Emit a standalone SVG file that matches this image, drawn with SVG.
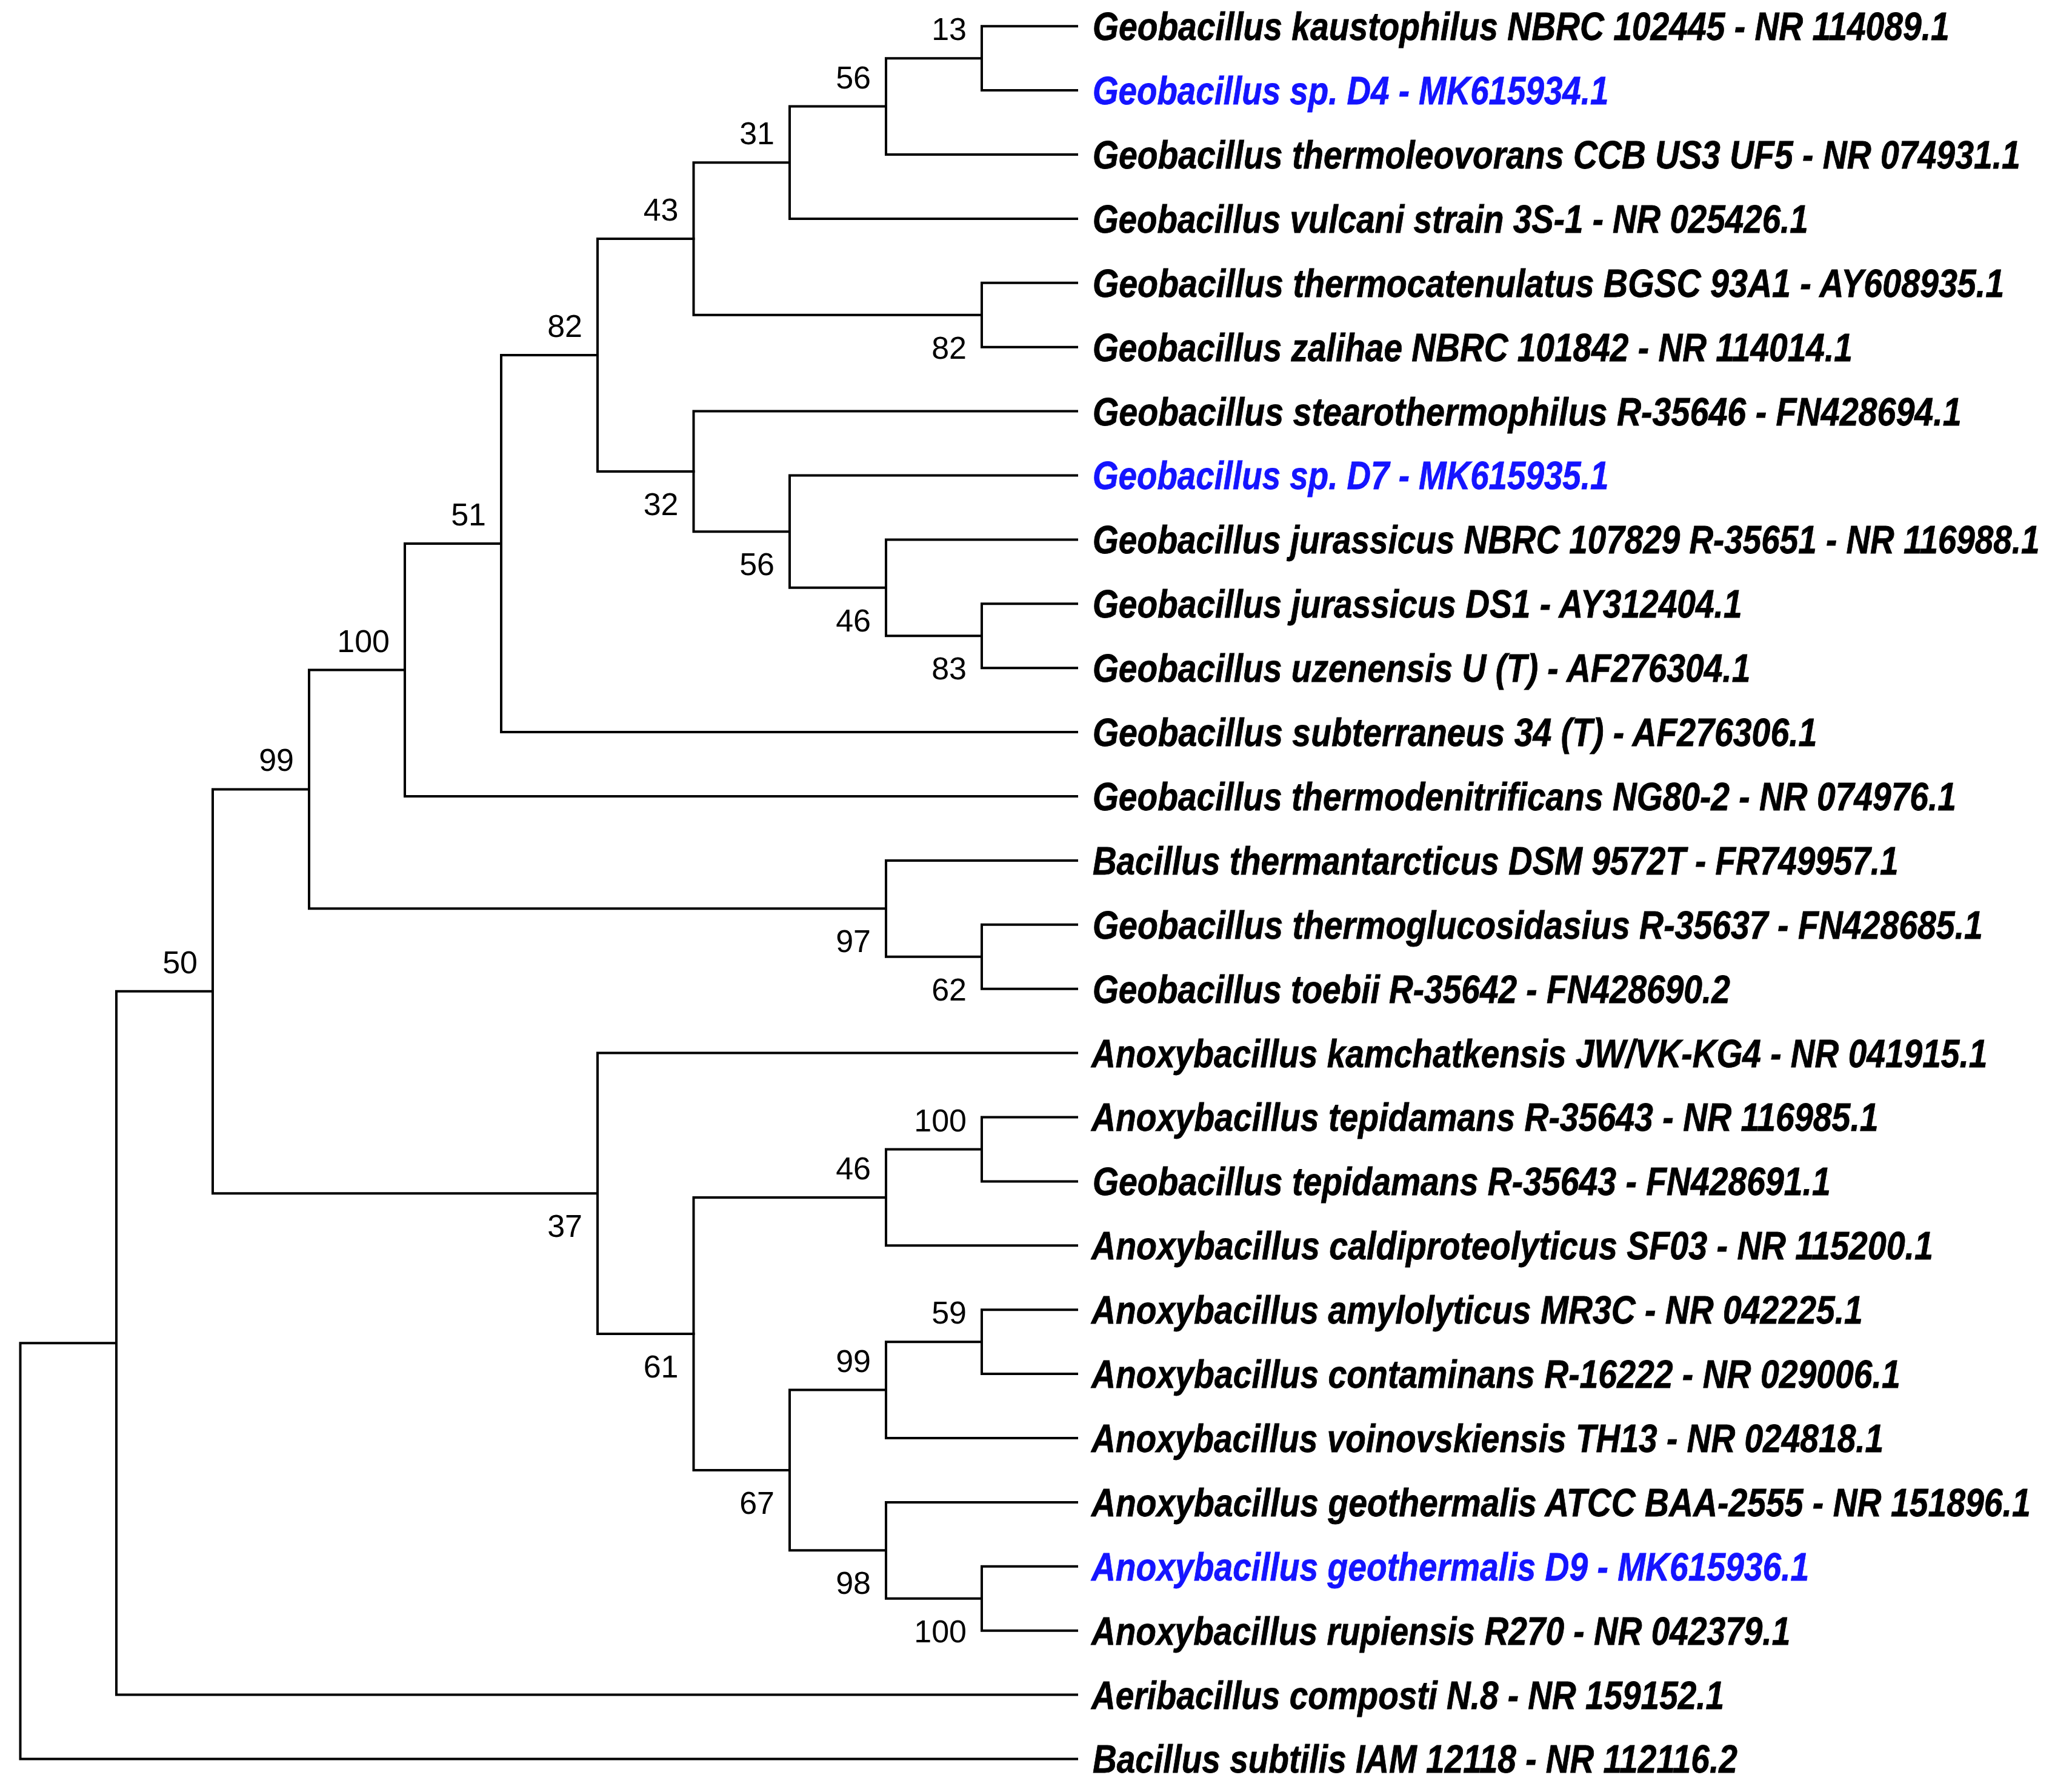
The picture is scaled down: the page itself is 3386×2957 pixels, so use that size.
<svg xmlns="http://www.w3.org/2000/svg" width="3386" height="2957" viewBox="0 0 3386 2957">
<style>
.br{fill:none;stroke:#000;stroke-width:4;stroke-linejoin:miter;stroke-linecap:square}
.bs{font-family:"Liberation Sans",Arial,sans-serif;font-size:52px;fill:#000;text-anchor:end}
.lf{font-family:"Liberation Sans",Arial,sans-serif;font-size:64px;font-weight:bold;font-style:italic;fill:#000;stroke:#000;stroke-width:0.8}
.lf .q{fill:#1414ff;stroke:#1414ff}
</style>
<rect width="3386" height="2957" fill="#fff"/>
<g id="connectors" class="br">
<path d="M1777 43.2H1620V149.1H1777"/>
<path d="M1620 96.15H1462V255H1777"/>
<path d="M1462 175.6H1303V360.9H1777"/>
<path d="M1777 466.8H1620V572.7H1777"/>
<path d="M1303 268.25H1144.5V519.75H1620"/>
<path d="M1777 996.3H1620V1102.2H1777"/>
<path d="M1777 890.4H1462V1049.25H1620"/>
<path d="M1777 784.5H1303V969.8H1462"/>
<path d="M1777 678.6H1144.5V877.15H1303"/>
<path d="M1144.5 394H986V777.9H1144.5"/>
<path d="M986 585.95H827V1208.1H1777"/>
<path d="M827 897H668V1314H1777"/>
<path d="M1777 1525.8H1620V1631.7H1777"/>
<path d="M1777 1419.9H1462V1578.75H1620"/>
<path d="M668 1105.5H510V1499.3H1462"/>
<path d="M1777 1843.5H1620V1949.4H1777"/>
<path d="M1620 1896.45H1462V2055.3H1777"/>
<path d="M1777 2161.2H1620V2267.1H1777"/>
<path d="M1620 2214.15H1462V2373H1777"/>
<path d="M1777 2584.8H1620V2690.7H1777"/>
<path d="M1777 2478.9H1462V2637.75H1620"/>
<path d="M1462 2293.6H1303V2558.3H1462"/>
<path d="M1462 1975.9H1144.5V2425.95H1303"/>
<path d="M1777 1737.6H986V2200.9H1144.5"/>
<path d="M510 1302.4H351V1969.25H986"/>
<path d="M351 1635.8H192V2796.6H1777"/>
<path d="M192 2216.2H33.5V2902.5H1777"/>
</g>
<g id="bootstrap" class="bs">
<g id="n13"><text x="1595" y="66">13</text></g>
<g id="n56a"><text x="1437" y="145.6">56</text></g>
<g id="n31"><text x="1278" y="238">31</text></g>
<g id="n43"><text x="1119.5" y="364">43</text></g>
<g id="n82b"><text x="1595" y="591.7">82</text></g>
<g id="n82a"><text x="961" y="556">82</text></g>
<g id="n32"><text x="1119.5" y="850">32</text></g>
<g id="n56b"><text x="1278" y="949">56</text></g>
<g id="n46a"><text x="1437" y="1042">46</text></g>
<g id="n83"><text x="1595" y="1121">83</text></g>
<g id="n51"><text x="802" y="867">51</text></g>
<g id="n100a"><text x="643" y="1075.5">100</text></g>
<g id="n99a"><text x="485" y="1272.4">99</text></g>
<g id="n97"><text x="1437" y="1571">97</text></g>
<g id="n62"><text x="1595" y="1651">62</text></g>
<g id="n50"><text x="326" y="1606">50</text></g>
<g id="n37"><text x="961" y="2041">37</text></g>
<g id="n100b"><text x="1595" y="1866.5">100</text></g>
<g id="n46b"><text x="1437" y="1946">46</text></g>
<g id="n61"><text x="1119.5" y="2273">61</text></g>
<g id="n59"><text x="1595" y="2184">59</text></g>
<g id="n99b"><text x="1437" y="2264">99</text></g>
<g id="n67"><text x="1278" y="2498">67</text></g>
<g id="n98"><text x="1437" y="2630">98</text></g>
<g id="n100c"><text x="1595" y="2710">100</text></g>
</g>
<g id="leaves" class="lf" transform="scale(0.86 1)">
<g id="leaf0"><text x="2096.5" y="66.2" textLength="1644" lengthAdjust="spacingAndGlyphs">Geobacillus kaustophilus NBRC 102445 - NR 114089.1</text></g>
<g id="leaf1"><text class="q" x="2096.5" y="172.1" textLength="990" lengthAdjust="spacingAndGlyphs">Geobacillus sp. D4 - MK615934.1</text></g>
<g id="leaf2"><text x="2096.5" y="278" textLength="1780" lengthAdjust="spacingAndGlyphs">Geobacillus thermoleovorans CCB US3 UF5 - NR 074931.1</text></g>
<g id="leaf3"><text x="2096.5" y="383.9" textLength="1373" lengthAdjust="spacingAndGlyphs">Geobacillus vulcani strain 3S-1 - NR 025426.1</text></g>
<g id="leaf4"><text x="2096.5" y="489.8" textLength="1749" lengthAdjust="spacingAndGlyphs">Geobacillus thermocatenulatus BGSC 93A1 - AY608935.1</text></g>
<g id="leaf5"><text x="2096.5" y="595.7" textLength="1458" lengthAdjust="spacingAndGlyphs">Geobacillus zalihae NBRC 101842 - NR 114014.1</text></g>
<g id="leaf6"><text x="2096.5" y="701.6" textLength="1667" lengthAdjust="spacingAndGlyphs">Geobacillus stearothermophilus R-35646 - FN428694.1</text></g>
<g id="leaf7"><text class="q" x="2096.5" y="807.5" textLength="990" lengthAdjust="spacingAndGlyphs">Geobacillus sp. D7 - MK615935.1</text></g>
<g id="leaf8"><text x="2096.5" y="913.4" textLength="1817" lengthAdjust="spacingAndGlyphs">Geobacillus jurassicus NBRC 107829 R-35651 - NR 116988.1</text></g>
<g id="leaf9"><text x="2096.5" y="1019.3" textLength="1246" lengthAdjust="spacingAndGlyphs">Geobacillus jurassicus DS1 - AY312404.1</text></g>
<g id="leaf10"><text x="2096.5" y="1125.2" textLength="1262" lengthAdjust="spacingAndGlyphs">Geobacillus uzenensis U (T) - AF276304.1</text></g>
<g id="leaf11"><text x="2096.5" y="1231.1" textLength="1390" lengthAdjust="spacingAndGlyphs">Geobacillus subterraneus 34 (T) - AF276306.1</text></g>
<g id="leaf12"><text x="2096.5" y="1337" textLength="1657" lengthAdjust="spacingAndGlyphs">Geobacillus thermodenitrificans NG80-2 - NR 074976.1</text></g>
<g id="leaf13"><text x="2096.5" y="1442.9" textLength="1546" lengthAdjust="spacingAndGlyphs">Bacillus thermantarcticus DSM 9572T - FR749957.1</text></g>
<g id="leaf14"><text x="2096.5" y="1548.8" textLength="1708" lengthAdjust="spacingAndGlyphs">Geobacillus thermoglucosidasius R-35637 - FN428685.1</text></g>
<g id="leaf15"><text x="2096.5" y="1654.7" textLength="1223" lengthAdjust="spacingAndGlyphs">Geobacillus toebii R-35642 - FN428690.2</text></g>
<g id="leaf16"><text x="2094.2" y="1760.6" textLength="1719" lengthAdjust="spacingAndGlyphs">Anoxybacillus kamchatkensis JW/VK-KG4 - NR 041915.1</text></g>
<g id="leaf17"><text x="2094.2" y="1866.5" textLength="1510" lengthAdjust="spacingAndGlyphs">Anoxybacillus tepidamans R-35643 - NR 116985.1</text></g>
<g id="leaf18"><text x="2096.5" y="1972.4" textLength="1416" lengthAdjust="spacingAndGlyphs">Geobacillus tepidamans R-35643 - FN428691.1</text></g>
<g id="leaf19"><text x="2094.2" y="2078.3" textLength="1615" lengthAdjust="spacingAndGlyphs">Anoxybacillus caldiproteolyticus SF03 - NR 115200.1</text></g>
<g id="leaf20"><text x="2094.2" y="2184.2" textLength="1480" lengthAdjust="spacingAndGlyphs">Anoxybacillus amylolyticus MR3C - NR 042225.1</text></g>
<g id="leaf21"><text x="2094.2" y="2290.1" textLength="1552" lengthAdjust="spacingAndGlyphs">Anoxybacillus contaminans R-16222 - NR 029006.1</text></g>
<g id="leaf22"><text x="2094.2" y="2396" textLength="1520" lengthAdjust="spacingAndGlyphs">Anoxybacillus voinovskiensis TH13 - NR 024818.1</text></g>
<g id="leaf23"><text x="2094.2" y="2501.9" textLength="1802" lengthAdjust="spacingAndGlyphs">Anoxybacillus geothermalis ATCC BAA-2555 - NR 151896.1</text></g>
<g id="leaf24"><text class="q" x="2094.2" y="2607.8" textLength="1377" lengthAdjust="spacingAndGlyphs">Anoxybacillus geothermalis D9 - MK615936.1</text></g>
<g id="leaf25"><text x="2094.2" y="2713.7" textLength="1341" lengthAdjust="spacingAndGlyphs">Anoxybacillus rupiensis R270 - NR 042379.1</text></g>
<g id="leaf26"><text x="2094.2" y="2819.6" textLength="1214" lengthAdjust="spacingAndGlyphs">Aeribacillus composti N.8 - NR 159152.1</text></g>
<g id="leaf27"><text x="2096.5" y="2925.5" textLength="1237" lengthAdjust="spacingAndGlyphs">Bacillus subtilis IAM 12118 - NR 112116.2</text></g>
</g>
</svg>
